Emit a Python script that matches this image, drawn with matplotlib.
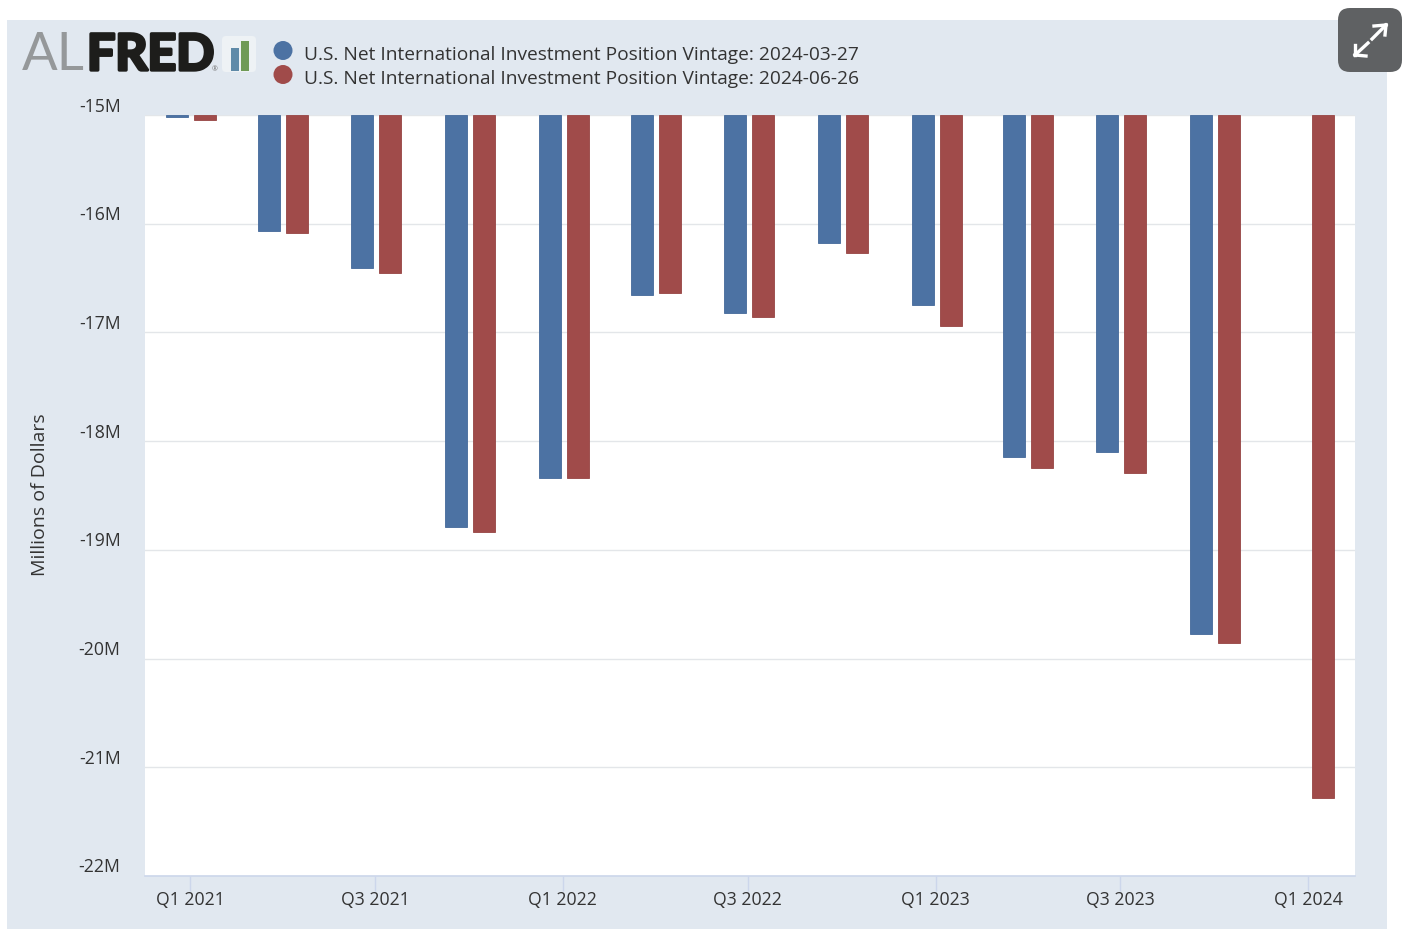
#!/usr/bin/env python3
# -*- coding: utf-8 -*-
import matplotlib
matplotlib.use("Agg")
import matplotlib.pyplot as plt
import matplotlib.dates as mdates
import matplotlib.patheffects as pe
from matplotlib.patches import Rectangle, FancyBboxPatch, Circle
from datetime import date

plt.rcParams['font.family'] = ['Open Sans', 'DejaVu Sans']

quarters = ["2021-01-01", "2021-04-01", "2021-07-01", "2021-10-01",
            "2022-01-01", "2022-04-01", "2022-07-01", "2022-10-01",
            "2023-01-01", "2023-04-01", "2023-07-01", "2023-10-01",
            "2024-01-01"]
vintage_march = [-15.02, -16.07, -16.41, -18.79, -18.34, -16.66, -16.82,
                 -16.18, -16.75, -18.15, -18.10, -19.77]
vintage_june = [-15.05, -16.09, -16.45, -18.84, -18.34, -16.64, -16.86,
                -16.27, -16.94, -18.25, -18.29, -19.86, -21.28]
yticks = [-15, -16, -17, -18, -19, -20, -21, -22]
ytick_labels = ["-15M", "-16M", "-17M", "-18M", "-19M", "-20M", "-21M", "-22M"]
xtick_dates = ["2021-01-01", "2021-07-01", "2022-01-01", "2022-07-01",
               "2023-01-01", "2023-07-01", "2024-01-01"]
xtick_labels = ["Q1 2021", "Q3 2021", "Q1 2022", "Q3 2022",
                "Q1 2023", "Q3 2023", "Q1 2024"]
legend_labels = ["U.S. Net International Investment Position Vintage: 2024-03-27",
                 "U.S. Net International Investment Position Vintage: 2024-06-26"]

BLUE = "#4c72a3"
RED = "#a04b4a"
PANEL = "#e1e8f0"
TEXT = "#333333"
W, H = 1410, 950


def num(s):
    return mdates.date2num(date.fromisoformat(s))


def main():
    fig = plt.figure(figsize=(W / 100, H / 100), dpi=100, facecolor="white")

    # overlay in pixels for panel, logo, legend and the expand button
    bg = fig.add_axes([0, 0, 1, 1], zorder=0)
    bg.set_xlim(0, W)
    bg.set_ylim(H, 0)
    bg.axis("off")
    bg.add_patch(Rectangle((7, 20), 1380, 909, fc=PANEL, ec="none"))

    ax = fig.add_axes([145 / W, 1 - 876 / H, 1210 / W, 761 / H], zorder=1)
    ax.set_facecolor("white")

    px_day = (1307 - 189) / (num("2024-01-01") - num("2021-01-01"))
    bar_w = 22 / px_day
    x = [num(q) for q in quarters]
    xb = [v - 13 / px_day for v in x[:len(vintage_march)]]
    xr = [v + 15 / px_day for v in x]
    ax.bar(xb, [v + 15 for v in vintage_march], bottom=-15, width=bar_w,
           color=BLUE, edgecolor="#44699a", linewidth=0.6, zorder=3)
    ax.bar(xr, [v + 15 for v in vintage_june], bottom=-15, width=bar_w,
           color=RED, edgecolor="#964443", linewidth=0.6, zorder=3)

    ax.set_xlim(num("2021-01-01") - 45.2 / px_day, num("2021-01-01") + 1164.8 / px_day)
    ax.set_ylim(-22, -15)
    ax.set_yticks(yticks)
    ax.set_yticklabels([])
    ax.tick_params(axis="y", length=0)
    ax.set_xticks([num(d) for d in xtick_dates])
    ax.set_xticklabels(xtick_labels, fontsize=12.7, color=TEXT)
    ax.tick_params(axis="x", length=11, width=1, color="#ccd6eb", pad=-0.5)
    ax.grid(axis="y", color="#e3e6e9", linewidth=1, zorder=0)
    for side in ["top", "left", "right"]:
        ax.spines[side].set_visible(False)
    ax.spines["bottom"].set_color("#ccd6eb")
    ax.spines["bottom"].set_linewidth(1.2)

    # y labels sit above the gridlines, as in the original
    for t, lab in zip(yticks, ytick_labels):
        bg.text(120.5, 115 + (-15 - t) * 108.7 - 8.5, lab, ha="right", va="center",
                fontsize=12.7, color=TEXT)
    bg.text(40, 495, "Millions of Dollars", rotation=90, ha="center", va="center",
            fontsize=14, color=TEXT)

    # legend
    bg.add_patch(Circle((283, 50.5), 9.5, fc=BLUE, ec="none"))
    bg.add_patch(Circle((283, 74.5), 9.5, fc=RED, ec="none"))
    bg.text(304, 55, legend_labels[0], va="center", fontsize=13.8, color=TEXT)
    bg.text(304, 79, legend_labels[1], va="center", fontsize=13.8, color=TEXT)

    # logo
    bg.text(22, 70, "AL", va="baseline", fontsize=38, color="#95989a", family="Lato")
    bg.text(87, 70, "FRED", va="baseline", fontsize=36, color="#1d1d1b", family="Lato",
            fontweight="bold",
            path_effects=[pe.withStroke(linewidth=2.4, foreground="#1d1d1b")])
    bg.text(212, 71, "®", va="baseline", fontsize=5, color="#6e6e6e")
    bg.add_patch(FancyBboxPatch((222, 36), 34, 36, boxstyle="round,pad=0,rounding_size=4",
                                fc="#eef2f5", ec="none"))
    bg.add_patch(Rectangle((231, 48), 8, 23, fc="#5f8aa8", ec="none"))
    bg.add_patch(Rectangle((241, 41), 8, 30, fc="#6f9a56", ec="none"))

    # expand button
    bg.add_patch(FancyBboxPatch((1338, 8), 64, 64, boxstyle="round,pad=0,rounding_size=12",
                                fc="#5f6163", ec="none", zorder=5))
    for x0, y0, x1, y1 in [(1372, 39, 1386, 25), (1386, 25, 1374, 26), (1386, 25, 1385, 35),
                           (1355, 55, 1368, 43), (1355, 55, 1355, 45), (1355, 55, 1366, 56)]:
        bg.plot([x0, x1], [y0, y1], color="white", lw=2.4, zorder=6, solid_capstyle="projecting")

    fig.savefig("out.png", dpi=100, facecolor="white")


if __name__ == "__main__":
    main()
